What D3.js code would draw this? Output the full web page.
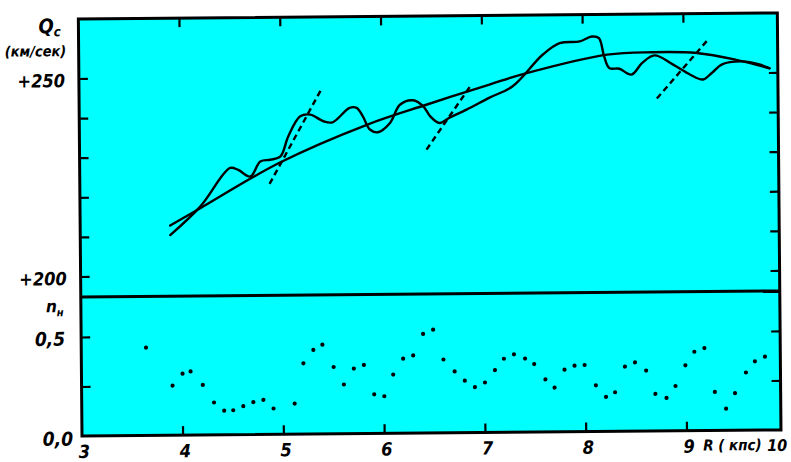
<!DOCTYPE html>
<html>
<head>
<meta charset="utf-8">
<script src="https://cdn.jsdelivr.net/npm/d3@7"></script>
<style>
  html, body { margin: 0; padding: 0; background: #ffffff; }
  svg { display: block; }
  text { font-family: "Liberation Sans Narrow", "DejaVu Sans Condensed", "Liberation Sans", sans-serif; font-style: italic; font-weight: bold; fill: #000; }
</style>
</head>
<body>
<svg id="chart" width="791" height="462"></svg>
<script>
// Smooth rotation curve Q_c(R), km/s
const smoothR = [3.89, 4.19, 4.98, 5.85, 6.45, 7.07, 7.44, 8.24, 8.69, 9.13, 9.52, 9.85];
const smoothV = [212.8, 217.1, 228.4, 237.8, 242.8, 247.7, 250.5, 255.0, 255.5, 255.2, 253.4, 251.2];

// Observed (wavy) rotation curve
const wavyR = [3.89, 4.19, 4.49, 4.57, 4.69, 4.79, 4.89, 4.99, 5.07, 5.19, 5.29, 5.42, 5.51, 5.68,
  5.75, 5.81, 5.88, 5.96, 6.08, 6.18, 6.31, 6.41, 6.48, 6.57, 6.67, 6.84, 7.07, 7.30, 7.60, 7.77,
  7.97, 8.09, 8.16, 8.21, 8.26, 8.36, 8.48, 8.59, 8.71, 8.89, 9.06, 9.19, 9.28, 9.38, 9.58, 9.75, 9.85];
const wavyV = [210.4, 217.5, 227.2, 226.7, 225.0, 228.8, 229.2, 230.0, 235.1, 240.1, 240.5, 238.8, 238.5, 242.1,
  242.1, 240.0, 236.6, 235.9, 238.2, 242.8, 243.9, 242.4, 239.8, 238.1, 239.4, 241.4, 244.4, 247.2, 255.1, 258.0,
  258.4, 259.6, 259.2, 254.6, 251.6, 251.4, 249.9, 252.9, 254.7, 252.4, 249.8, 248.5, 250.2, 252.3, 253.0, 252.2, 251.2];

// Dashed segments (start R, end R) and (start Q, end Q)
const dashR = [[4.88, 5.40], [6.44, 6.89], [8.73, 9.24]];
const dashV = [[223.1, 246.8], [231.4, 247.7], [243.8, 258.5]];

// Lower panel: n_H(R)
const nR = [3.64, 3.90, 4.00, 4.08, 4.20, 4.31, 4.41, 4.50, 4.60, 4.70, 4.80, 4.90, 5.11, 5.20, 5.30,
  5.39, 5.50, 5.60, 5.70, 5.80, 5.90, 6.00, 6.09, 6.19, 6.29, 6.39, 6.49, 6.59, 6.70, 6.80,
  6.90, 7.00, 7.10, 7.19, 7.29, 7.40, 7.49, 7.60, 7.69, 7.79, 7.89, 7.99, 8.10, 8.20, 8.29,
  8.39, 8.49, 8.60, 8.69, 8.80, 8.89, 8.99, 9.08, 9.18, 9.28, 9.39, 9.48, 9.59, 9.68, 9.78];
const nVal = [0.446, 0.253, 0.313, 0.324, 0.255, 0.166, 0.124, 0.126, 0.146, 0.166, 0.177, 0.133, 0.157, 0.360, 0.427,
  0.453, 0.340, 0.251, 0.331, 0.349, 0.200, 0.190, 0.299, 0.379, 0.395, 0.503, 0.524, 0.373, 0.312, 0.265,
  0.232, 0.255, 0.317, 0.374, 0.396, 0.374, 0.346, 0.268, 0.226, 0.316, 0.336, 0.339, 0.236, 0.177, 0.200,
  0.329, 0.350, 0.308, 0.190, 0.169, 0.229, 0.333, 0.401, 0.419, 0.197, 0.112, 0.190, 0.294, 0.350, 0.373];

// Axes ticks and labels
const xTicks = [4, 5, 6, 7, 8, 9];
const xTickLabels = ["3", "4", "5", "6", "7", "8", "9", "10"];
const xLabelValues = [3, 4, 5, 6, 7, 8, 9, 10];
const vTicks = [200, 210, 220, 230, 240, 250];
const vLabelValues = [200, 250];
const vLabels = ["+200", "+250"];
const nTicks = [0.25, 0.5];
const nLabelValues = [0, 0.5];
const nLabels = ["0,0", "0,5"];

// Frame geometry
const L = 82, R = 781, T = 19, MID = 297, B = 436;

const svg = d3.select("#chart");
const g = svg.append("g").attr("transform", `rotate(-0.5, ${L}, ${B})`);

const x = d3.scaleLinear().domain([3, 9]).range([82.3, 687]);
const yV = d3.scaleLinear().domain([200, 250]).range([277, 79]);
const yN = d3.scaleLinear().domain([0, 0.5]).range([436.5, 337.5]);

// Panel background
g.append("rect").attr("x", L).attr("y", T).attr("width", R - L).attr("height", B - T)
  .attr("fill", "#00ffff").attr("stroke", "none");

// Curves
const line = d3.line().x(d => x(d[0])).y(d => yV(d[1])).curve(d3.curveCatmullRom.alpha(0.5));

g.append("path").datum(smoothR.map((r, i) => [r, smoothV[i]]))
  .attr("d", line).attr("fill", "none").attr("stroke", "#000").attr("stroke-width", 2.4)
  .attr("stroke-linecap", "round");
g.append("path").datum(wavyR.map((r, i) => [r, wavyV[i]]))
  .attr("d", line).attr("fill", "none").attr("stroke", "#000").attr("stroke-width", 2.4)
  .attr("stroke-linecap", "round").attr("stroke-linejoin", "round");

dashR.forEach((dr, i) => {
  g.append("line")
    .attr("x1", x(dr[0])).attr("y1", yV(dashV[i][0]))
    .attr("x2", x(dr[1])).attr("y2", yV(dashV[i][1]))
    .attr("stroke", "#000").attr("stroke-width", 2.4).attr("stroke-dasharray", "6,4");
});

// Dots
g.selectAll("circle.n").data(nR.map((r, i) => [r, nVal[i]])).enter()
  .append("circle").attr("class", "n")
  .attr("cx", d => x(d[0])).attr("cy", d => yN(d[1])).attr("r", 2.1).attr("fill", "#000");

// Frame and divider
g.append("rect").attr("x", L).attr("y", T).attr("width", R - L).attr("height", B - T)
  .attr("fill", "none").attr("stroke", "#000").attr("stroke-width", 3);
g.append("line").attr("x1", L).attr("x2", R).attr("y1", MID).attr("y2", MID)
  .attr("stroke", "#000").attr("stroke-width", 3);

// Tick marks
const tk = 9;
const tickG = g.append("g").attr("stroke", "#000").attr("stroke-width", 2.2);
xTicks.forEach(t => {
  tickG.append("line").attr("x1", x(t)).attr("x2", x(t)).attr("y1", B).attr("y2", B - tk);
  tickG.append("line").attr("x1", x(t)).attr("x2", x(t)).attr("y1", T).attr("y2", T + tk);
});
vTicks.forEach(t => {
  tickG.append("line").attr("x1", L).attr("x2", L + tk).attr("y1", yV(t)).attr("y2", yV(t));
  tickG.append("line").attr("x1", R).attr("x2", R - tk).attr("y1", yV(t)).attr("y2", yV(t));
});
nTicks.forEach(t => {
  tickG.append("line").attr("x1", L).attr("x2", L + tk).attr("y1", yN(t)).attr("y2", yN(t));
  tickG.append("line").attr("x1", R).attr("x2", R - tk).attr("y1", yN(t)).attr("y2", yN(t));
});

// Labels
xLabelValues.forEach((v, i) => {
  if (v === 10) return;
  g.append("text").attr("x", x(v) + 2).attr("y", 458).attr("text-anchor", "middle")
    .attr("font-size", 18).text(xTickLabels[i]);
});
g.append("text").attr("x", 703).attr("y", 456).attr("font-size", 15).text("R ( кпс)");
g.append("text").attr("x", 767).attr("y", 457).attr("font-size", 16).text(xTickLabels[7]);

vLabelValues.forEach((v, i) => {
  g.append("text").attr("x", 68).attr("y", yV(v) + 8).attr("text-anchor", "end")
    .attr("font-size", 18).text(vLabels[i]);
});
nLabelValues.forEach((v, i) => {
  g.append("text").attr("x", v === 0 ? 73 : 66).attr("y", yN(v) + (v === 0 ? 9 : 8)).attr("text-anchor", "end")
    .attr("font-size", 19).text(nLabels[i]);
});

const q = g.append("text").attr("x", 42).attr("y", 33).attr("font-size", 20);
q.append("tspan").text("Q");
q.append("tspan").attr("font-size", 13).attr("dy", 3).text("c");
g.append("text").attr("x", 8).attr("y", 56).attr("font-size", 14.5).text("(км/сек)");

const nl = g.append("text").attr("x", 47).attr("y", 312).attr("font-size", 17);
nl.append("tspan").text("n");
nl.append("tspan").attr("font-size", 11).attr("dy", 4).text("н");
</script>
</body>
</html>
